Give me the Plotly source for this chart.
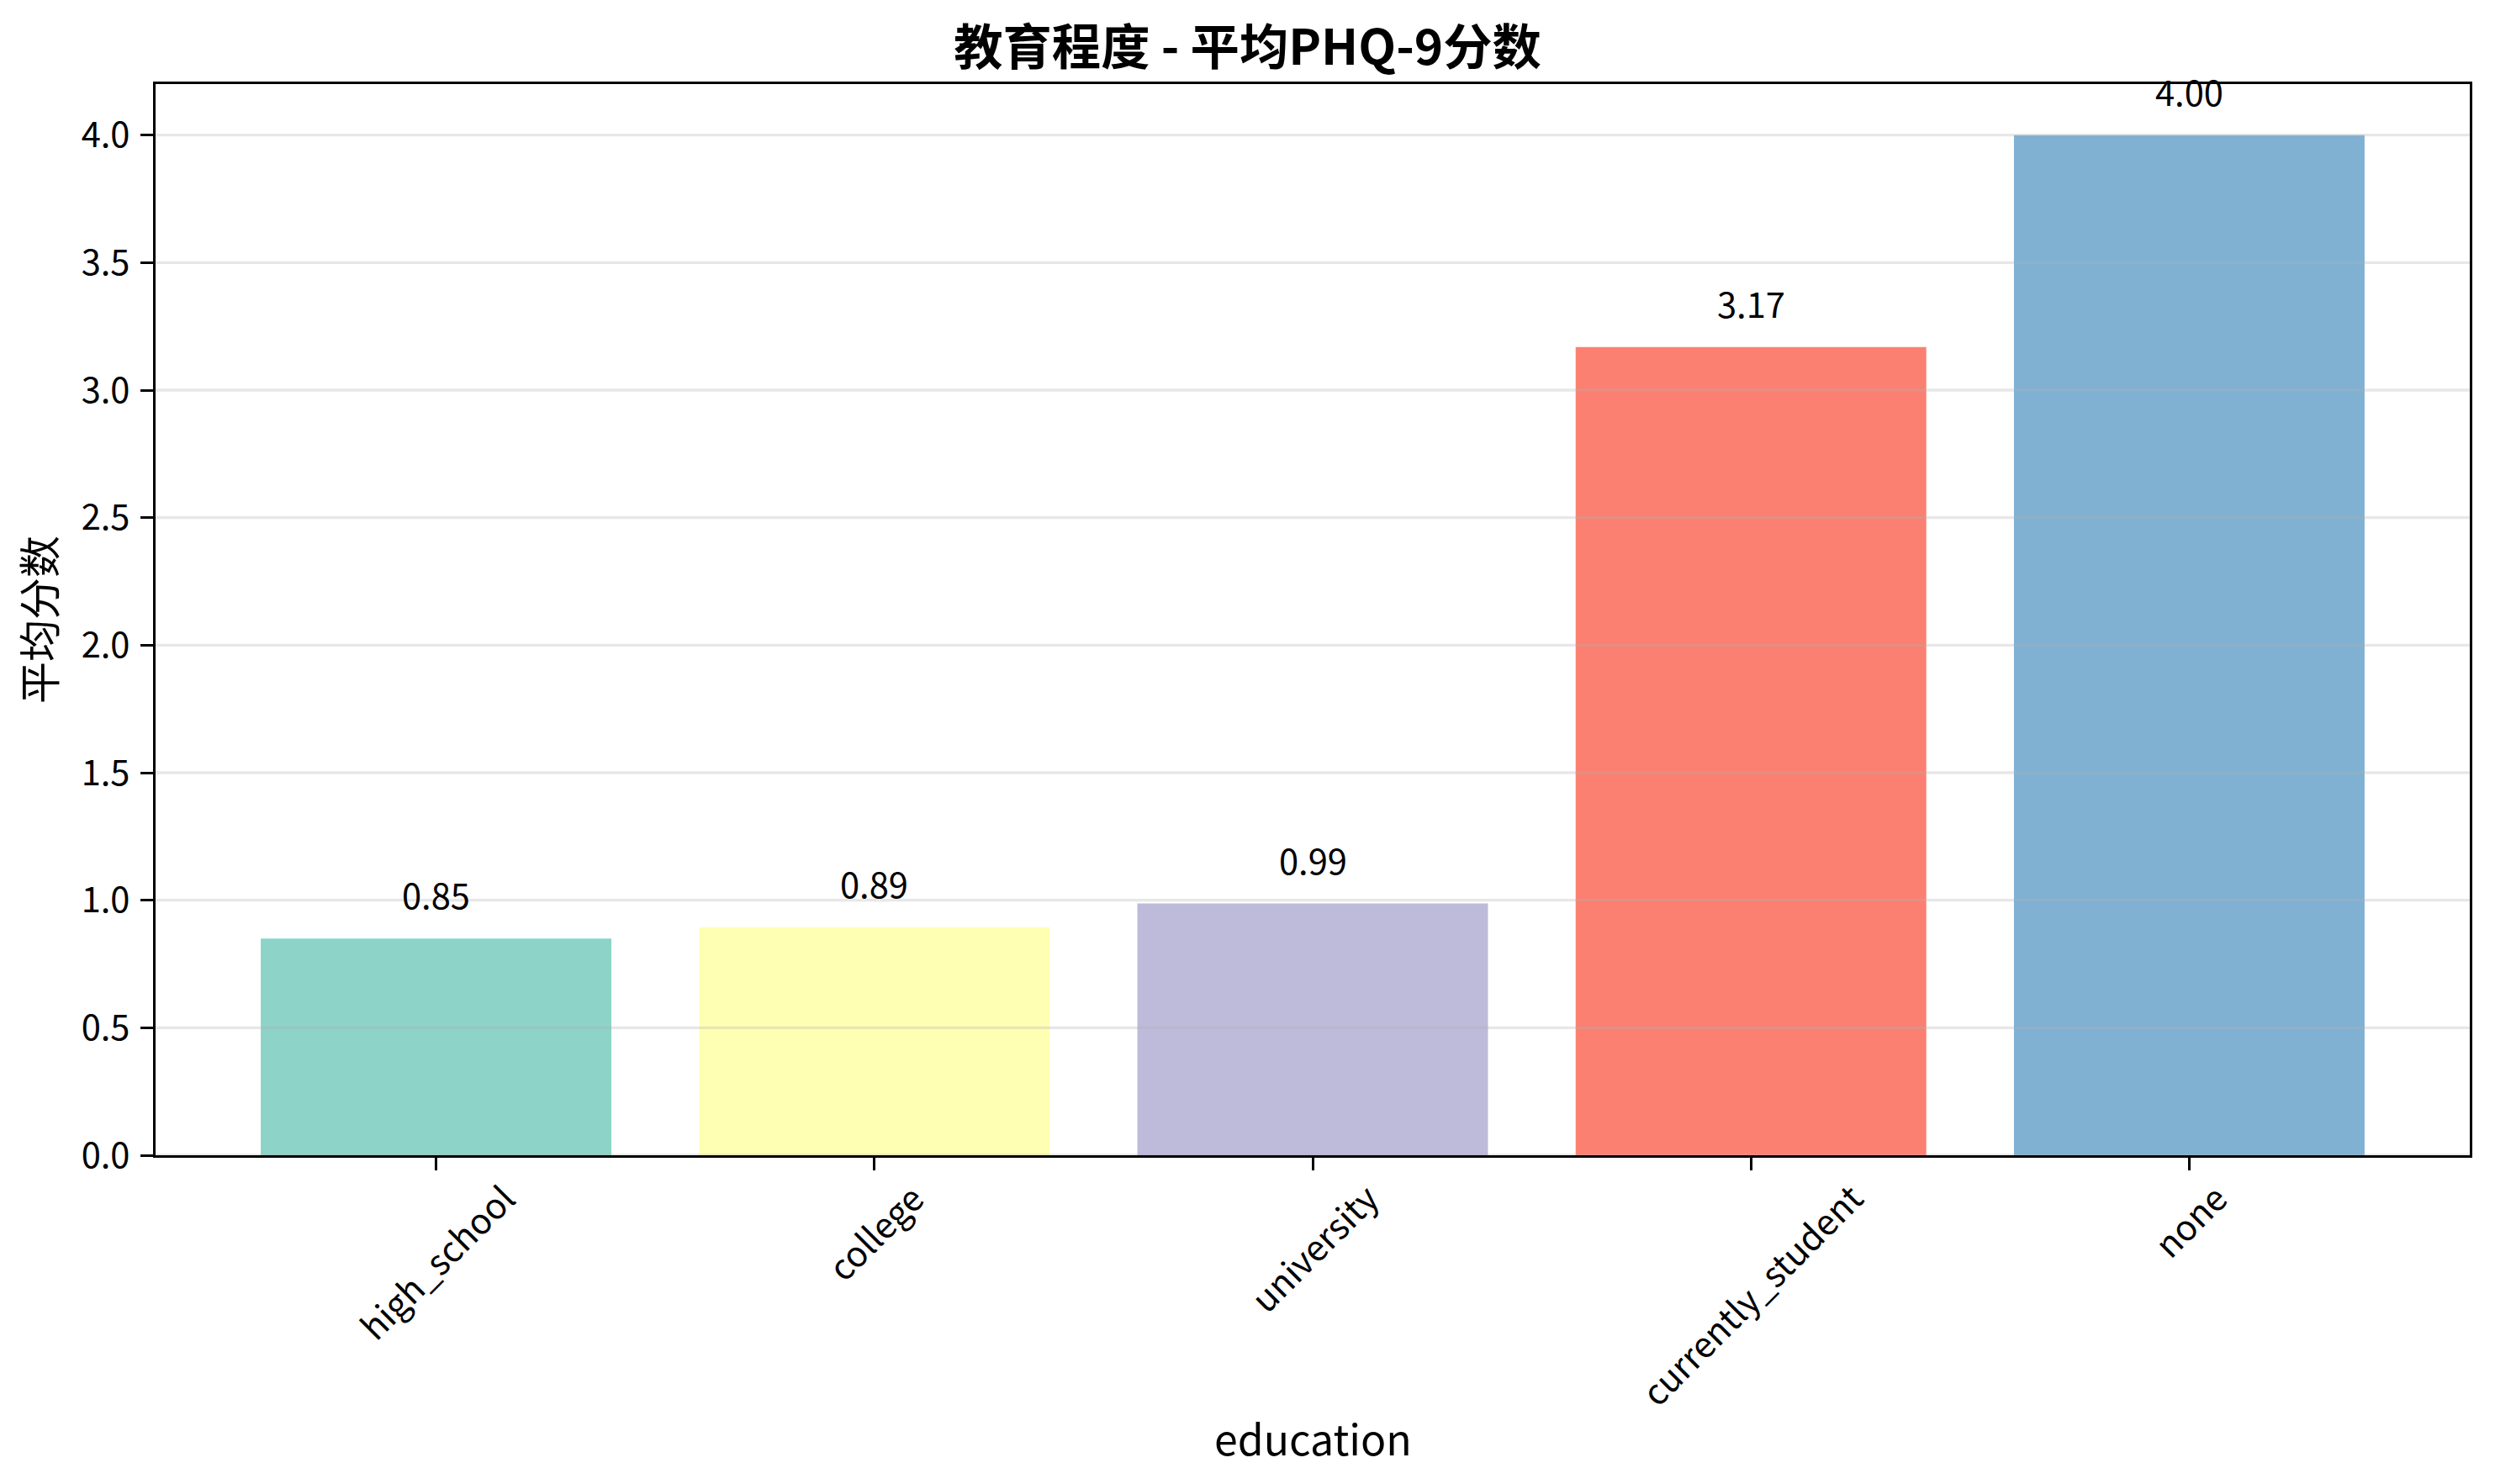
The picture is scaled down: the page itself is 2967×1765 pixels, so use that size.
import plotly.graph_objects as go

# data
education_levels = ['high_school', 'college', 'university', 'currently_student', 'none']
mean_scores = [0.85, 0.894, 0.987, 3.169, 4.00]
bar_colors = ['#8dd3c7', '#ffffb3', '#bebada', '#fb8072', '#80b1d3']
y_ticks = [0.0, 0.5, 1.0, 1.5, 2.0, 2.5, 3.0, 3.5, 4.0]

font_family = 'Noto Sans CJK SC, Noto Sans, sans-serif'
pt = 300 / 72  # matplotlib points -> pixels at 300 dpi

# the html page puts an 8px body margin round the figure
fig_w, fig_h = 2951, 1749

fig = go.Figure()
fig.add_trace(go.Bar(
    x=list(range(len(education_levels))),
    y=mean_scores,
    width=0.8,
    marker=dict(color=bar_colors, line=dict(width=0)),
    hoverinfo='skip',
))

annotations = []
# value labels above bars
for i, v in enumerate(mean_scores):
    annotations.append(dict(
        x=i, y=v, xref='x', yref='y', text=f'{v:.2f}', showarrow=False,
        yanchor='bottom', yshift=21,
        font=dict(family=font_family, size=10 * pt, color='black'),
    ))

# rotated category labels, centred under each tick like matplotlib
for i, name in enumerate(education_levels):
    annotations.append(dict(
        x=i, y=0, xref='x', yref='paper', text=name, showarrow=False,
        textangle=-45, xanchor='center', yanchor='top', yshift=-18,
        font=dict(family=font_family, size=10 * pt, color='black'),
    ))

annotations.append(dict(
    x=0.5, y=0, xref='paper', yref='paper', text='education', showarrow=False,
    yanchor='middle', yshift=-335,
    font=dict(family=font_family, size=12 * pt, color='black'),
))

# grid drawn over the bars, as in the original
shapes = [dict(type='line', xref='paper', yref='y', x0=0, x1=1, y0=t, y1=t,
               layer='above', line=dict(color='rgba(176,176,176,0.3)', width=0.8 * pt))
          for t in y_ticks]

fig.update_layout(
    width=fig_w,
    height=fig_h,
    margin=dict(l=177, r=22, t=92, b=383),
    paper_bgcolor='white',
    plot_bgcolor='white',
    showlegend=False,
    font=dict(family=font_family, size=10 * pt, color='black'),
    title=dict(text='<b>教育程度 - 平均PHQ-9分数</b>', x=0.5, xanchor='center',
               y=1 - 49 / fig_h, yanchor='middle',
               font=dict(family=font_family, size=14 * pt, color='black')),
    xaxis=dict(
        range=[-0.64, 4.64],
        tickmode='array', tickvals=list(range(len(education_levels))),
        showticklabels=False,
        ticks='outside', ticklen=15, tickwidth=0.8 * pt, tickcolor='black',
        showline=True, linecolor='black', linewidth=0.8 * pt, mirror=True,
        showgrid=False, zeroline=False,
    ),
    yaxis=dict(
        range=[0, 4.2],
        tickmode='array', tickvals=y_ticks, ticktext=[f'{t:.1f}' for t in y_ticks],
        ticks='outside', ticklen=15, tickwidth=0.8 * pt, tickcolor='black',
        ticklabelstandoff=4,
        showline=True, linecolor='black', linewidth=0.8 * pt, mirror=True,
        showgrid=False, zeroline=False,
        title=dict(text='平均分数', standoff=20,
                   font=dict(family=font_family, size=12 * pt, color='black')),
    ),
    annotations=annotations,
    shapes=shapes,
)

fig.write_html('out.html')
